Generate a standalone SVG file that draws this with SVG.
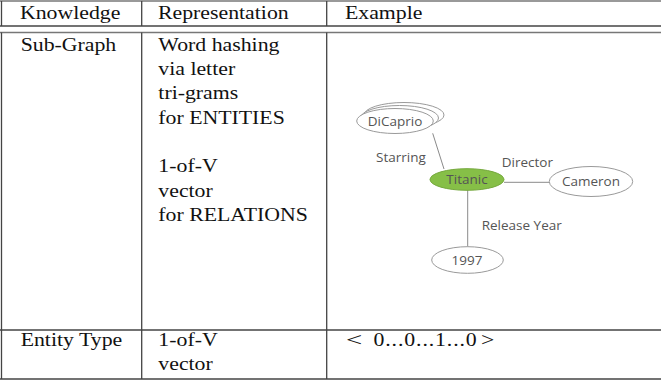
<svg xmlns="http://www.w3.org/2000/svg" width="661" height="381" viewBox="0 0 661 381">
<style>
.t{font-family:"Liberation Serif","Times New Roman",serif;font-size:18.8px;fill:#111}
.rule{stroke:#444;stroke-width:1.3;fill:none}
.rule2{stroke:#777;stroke-width:1.3;fill:none}
.n{fill:#fff;stroke:#9a9a9a;stroke-width:1}
.g{font-family:"Open Sans","Noto Sans",sans-serif;font-size:13.5px;fill:#555}
.edge{stroke:#8a8a8a;stroke-width:1;fill:none}
</style>
<rect width="661" height="381" fill="#fff"/>
<g id="table">
  <line class="rule2" x1="0" y1="1" x2="661" y2="1"/>
  <line class="rule" x1="0" y1="26" x2="661" y2="26"/>
  <line class="rule2" x1="0" y1="32.5" x2="661" y2="32.5"/>
  <line class="rule" x1="0" y1="330" x2="661" y2="330"/>
  <line class="rule" x1="0" y1="379" x2="661" y2="379"/>
  <line class="rule" x1="1.5" y1="1" x2="1.5" y2="26"/>
  <line class="rule" x1="1.5" y1="32.5" x2="1.5" y2="379"/>
  <line class="rule" x1="141.7" y1="1" x2="141.7" y2="26"/>
  <line class="rule" x1="141.7" y1="32.5" x2="141.7" y2="379"/>
  <line class="rule" x1="326.7" y1="1" x2="326.7" y2="26"/>
  <line class="rule" x1="326.7" y1="32.5" x2="326.7" y2="379"/>
</g>
<g id="cells" transform="scale(1.16,1)">
  <text class="t" x="17.2" y="19">Knowledge</text>
  <text class="t" x="136.2" y="19">Representation</text>
  <text class="t" x="297.4" y="19">Example</text>
  <text class="t" x="17.8" y="50.7">Sub-Graph</text>
  <text class="t" x="136.5" y="50.7">Word hashing</text>
  <text class="t" x="136.5" y="75">via letter</text>
  <text class="t" x="136.5" y="99.3">tri-grams</text>
  <text class="t" x="136.5" y="123.7">for ENTITIES</text>
  <text class="t" x="136.5" y="172.3">1-of-V</text>
  <text class="t" x="136.5" y="196.7">vector</text>
  <text class="t" x="136.5" y="221">for RELATIONS</text>
  <text class="t" x="17.8" y="346">Entity Type</text>
  <text class="t" x="136.5" y="346">1-of-V</text>
  <text class="t" x="136.5" y="370.5">vector</text>
  <text class="t" x="298.3" y="346" textLength="14" lengthAdjust="spacingAndGlyphs">&lt;</text>
  <text class="t" x="322" y="346" textLength="89" lengthAdjust="spacing">0...0...1...0</text>
  <text class="t" x="414.7" y="346" textLength="11.5" lengthAdjust="spacingAndGlyphs">&gt;</text>
</g>
<g id="connectors">
  <line class="edge" x1="432.7" y1="133.3" x2="444" y2="169"/>
  <line class="edge" x1="504" y1="182.3" x2="549.5" y2="182.3"/>
  <line class="edge" x1="467.7" y1="190" x2="467.7" y2="246.7"/>
  <text class="g" x="376" y="161.7">Starring</text>
  <text class="g" x="501.7" y="167.3">Director</text>
  <text class="g" x="481.7" y="230">Release Year</text>
</g>
<g id="dicaprio">
  <ellipse class="n" cx="404" cy="115" rx="40" ry="12.5"/>
  <ellipse class="n" cx="399.5" cy="118" rx="39" ry="12.5"/>
  <ellipse class="n" cx="395" cy="121" rx="38.3" ry="12.5"/>
  <text class="g" x="395" y="125.5" text-anchor="middle">DiCaprio</text>
</g>
<g id="titanic">
  <ellipse cx="467" cy="179.5" rx="37" ry="10.8" fill="#86bf47" stroke="#74a83c" stroke-width="1"/>
  <text class="g" x="467" y="184.2" text-anchor="middle">Titanic</text>
</g>
<g id="cameron">
  <ellipse class="n" cx="591" cy="181.5" rx="41.7" ry="15"/>
  <text class="g" x="591" y="186.2" text-anchor="middle">Cameron</text>
</g>
<g id="y1997">
  <ellipse class="n" cx="467.5" cy="260" rx="35.8" ry="13.3"/>
  <text class="g" x="467" y="264.7" text-anchor="middle">1997</text>
</g>
</svg>
